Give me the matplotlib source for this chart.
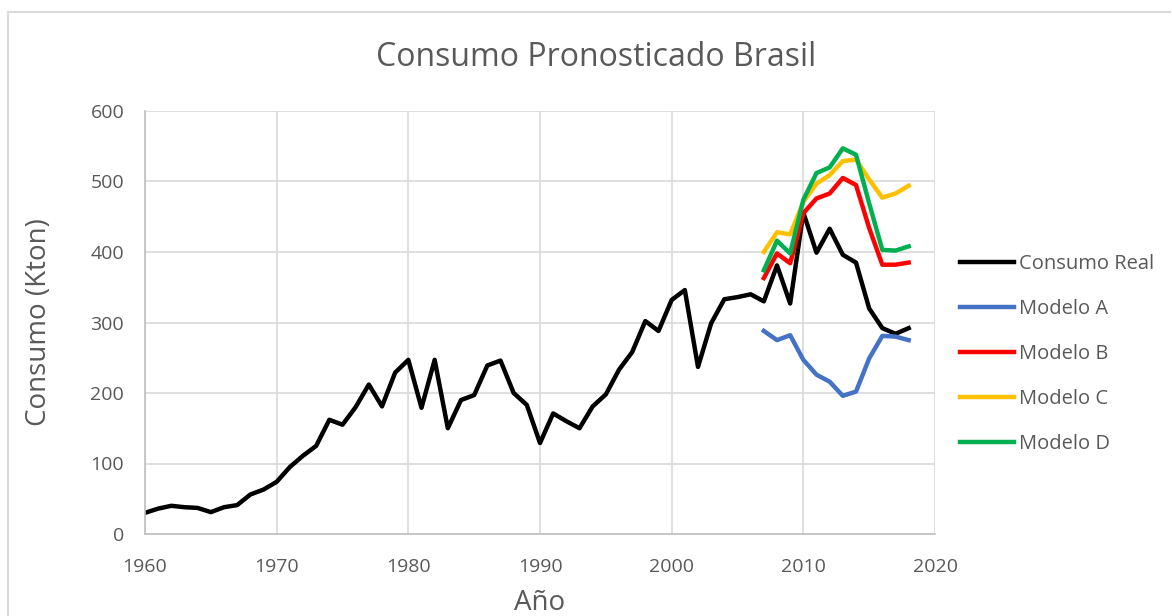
import matplotlib.pyplot as plt
from matplotlib.lines import Line2D

plt.rcParams['font.family'] = ['Open Sans', 'DejaVu Sans']

years = list(range(1960, 2019))
consumo_real = [30, 36, 40, 38, 37, 31, 38, 41, 56, 63,
                74, 95, 111, 125, 162, 155, 180, 212, 181, 229,
                247, 179, 247, 150, 190, 197, 239, 246, 200, 183,
                129, 171, 160, 150, 181, 198, 233, 258, 302, 288,
                332, 346, 237, 299, 333, 336, 340, 330, 381, 327,
                456, 399, 433, 396, 385, 320, 292, 284, 292]

years_model = list(range(2007, 2019))
modelo_a = [288, 275, 282, 247, 226, 216, 196, 202, 249, 281, 280, 275]
modelo_b = [363, 398, 384, 455, 476, 483, 505, 495, 434, 382, 382, 385]
modelo_c = [400, 428, 425, 471, 497, 509, 529, 531, 503, 477, 483, 494]
modelo_d = [374, 416, 398, 474, 512, 520, 547, 538, 469, 403, 402, 408]

gray = '#595959'

fig = plt.figure(figsize=(11.72, 6.16), dpi=100)
ax = fig.add_axes([145 / 1172, 82 / 616, 790 / 1172, 423 / 616])

lw = 3.2
ax.plot(years, consumo_real, color='black', lw=lw, label='Consumo Real')
ax.plot(years_model, modelo_a, color='#4472c4', lw=lw, label='Modelo A')
ax.plot(years_model, modelo_b, color='#ff0000', lw=lw, label='Modelo B')
ax.plot(years_model, modelo_c, color='#ffc000', lw=lw, label='Modelo C')
ax.plot(years_model, modelo_d, color='#00b050', lw=lw, label='Modelo D')

ax.set_xlim(1960, 2020)
ax.set_ylim(0, 600)
ax.set_xticks(range(1960, 2021, 10))
ax.set_yticks(range(0, 601, 100))
ax.grid(True, color='#d9d9d9', lw=1.2)
ax.set_axisbelow(True)
for s in ['top', 'right']:
    ax.spines[s].set_visible(False)
for s in ['left', 'bottom']:
    ax.spines[s].set_color('#bfbfbf')
    ax.spines[s].set_linewidth(1.2)
ax.tick_params(axis='both', length=0, labelsize=14, colors=gray)
ax.tick_params(axis='y', pad=15)
ax.tick_params(axis='x', pad=17)

ax.set_xlabel('Año', fontsize=20, color=gray, labelpad=10)
ax.set_ylabel('Consumo (Kton)', fontsize=20, color=gray, labelpad=27)
fig.text(596 / 1172, 1 - 58 / 616, 'Consumo Pronosticado Brasil',
         fontsize=23, color=gray, ha='center', va='center')

ax.legend(loc='center left', bbox_to_anchor=(960 / 1172, 1 - 354 / 616),
          bbox_transform=fig.transFigure, frameon=False, fontsize=14.5,
          handlelength=2.7, handletextpad=0.25, labelspacing=1.24,
          borderpad=0, borderaxespad=0, labelcolor=gray)

# chart border
fig.add_artist(Line2D([8 / 1172, 1170 / 1172], [1 - 12 / 616, 1 - 12 / 616],
                      transform=fig.transFigure, color='#d9d9d9', lw=1.5))
fig.add_artist(Line2D([8 / 1172, 8 / 1172], [0, 1 - 12 / 616],
                      transform=fig.transFigure, color='#d9d9d9', lw=1.5))

fig.savefig('out.png', dpi=100)
